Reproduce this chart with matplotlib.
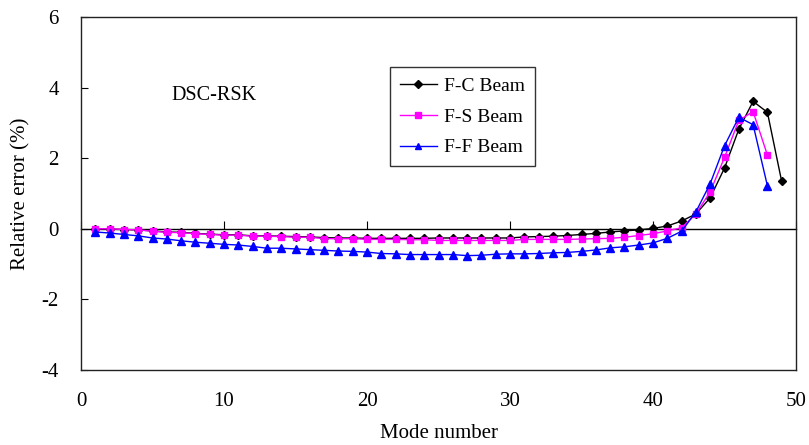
import matplotlib
matplotlib.use("Agg")
import matplotlib.pyplot as plt
import numpy as np

plt.rcParams['font.family'] = ['Liberation Serif', 'DejaVu Serif']
plt.rcParams['axes.unicode_minus'] = False

modes_fc = list(range(1, 50))
fc = [0.00, -0.01, -0.02, -0.03, -0.06, -0.09, -0.10, -0.13, -0.15, -0.17,
      -0.17, -0.20, -0.20, -0.21, -0.22, -0.23, -0.25, -0.26, -0.26, -0.27,
      -0.27, -0.27, -0.27, -0.27, -0.26, -0.26, -0.26, -0.26, -0.26, -0.26,
      -0.23, -0.22, -0.21, -0.19, -0.16, -0.13, -0.09, -0.06, -0.03, 0.01,
      0.08, 0.22, 0.42, 0.88, 1.72, 2.82, 3.61, 3.30, 1.34]

modes_fs = list(range(1, 49))
fs = [0.00, 0.00, -0.02, -0.03, -0.07, -0.10, -0.11, -0.14, -0.16, -0.18,
      -0.18, -0.21, -0.21, -0.22, -0.24, -0.24, -0.28, -0.28, -0.28, -0.30,
      -0.30, -0.30, -0.31, -0.31, -0.33, -0.33, -0.33, -0.33, -0.33, -0.33,
      -0.30, -0.30, -0.30, -0.30, -0.29, -0.28, -0.27, -0.24, -0.19, -0.14,
      -0.06, 0.03, 0.42, 1.05, 2.02, 3.07, 3.32, 2.09]

modes_ff = list(range(1, 49))
ff = [-0.09, -0.12, -0.16, -0.20, -0.26, -0.29, -0.34, -0.38, -0.41, -0.44,
      -0.46, -0.50, -0.55, -0.55, -0.57, -0.59, -0.61, -0.63, -0.64, -0.66,
      -0.70, -0.71, -0.73, -0.73, -0.73, -0.73, -0.76, -0.75, -0.72, -0.71,
      -0.71, -0.70, -0.68, -0.67, -0.64, -0.60, -0.54, -0.51, -0.46, -0.40,
      -0.27, -0.07, 0.48, 1.28, 2.35, 3.16, 2.95, 1.22]

labels = ['F-C Beam', 'F-S Beam', 'F-F Beam']
xticks = [0, 10, 20, 30, 40, 50]
yticks = [-4, -2, 0, 2, 4, 6]

fig = plt.figure(figsize=(8.09, 4.45), dpi=100)
ax = fig.add_axes([81/809, 1-370/445, (796-81)/809, (370-17)/445])

ax.plot(modes_fc, fc, color='black', lw=1.0, marker='D', ms=4.2, label=labels[0])
ax.plot(modes_fs, fs, color='#FF00FF', lw=1.0, marker='s', ms=5, label=labels[1])
ax.plot(modes_ff, ff, color='#0000FF', lw=1.0, marker='^', ms=6, label=labels[2])

ax.set_xlim(0, 50)
ax.set_ylim(-4, 6)
ax.set_xticks(xticks)
ax.set_yticks(yticks)
ax.tick_params(axis='x', length=0, labelsize=15, pad=16)
ax.tick_params(axis='y', direction='in', length=5, labelsize=15, pad=16)
for s in ax.spines.values():
    s.set_color('#222222')
    s.set_linewidth(1.0)

# zero line with upward ticks
sec = ax.secondary_xaxis(0.4)
sec.set_xticks(xticks)
sec.tick_params(direction='in', length=6, labelbottom=False, labeltop=False, color='black')
sec.spines['bottom'].set_color('black')
sec.spines['bottom'].set_linewidth(1.0)

ax.set_xlabel('Mode number', fontsize=15, labelpad=9)
ax.set_ylabel('Relative error (%)', fontsize=15, labelpad=8)

ax.text(0.127, 0.778, 'DSC-RSK', transform=ax.transAxes, fontsize=14.5,
        ha='left', va='center')

leg = ax.legend(loc='upper left', bbox_to_anchor=(0.432, 0.857), fontsize=14,
                frameon=True, fancybox=False, edgecolor='black',
                handlelength=1.9, handletextpad=0.4, borderpad=0.5,
                labelspacing=0.68, borderaxespad=0)
leg.get_frame().set_linewidth(1.0)
for h in leg.legend_handles:
    h.set_markersize(4.5)

fig.savefig('out.png', dpi=100)
